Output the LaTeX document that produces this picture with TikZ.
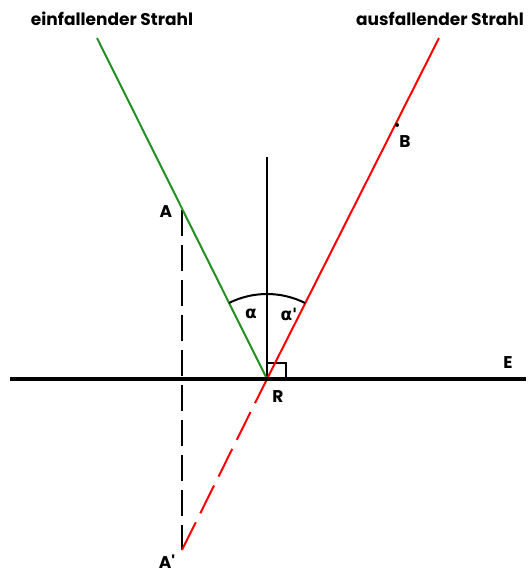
\documentclass[tikz,border=0pt]{standalone}
\usepackage{fontspec}
\setmainfont{Poppins}
\newfontfamily\greekfont{DejaVu Sans}
\definecolor{raygreen}{RGB}{34,145,34}
\definecolor{rayred}{RGB}{255,0,0}
\begin{document}
\begin{tikzpicture}[x=1pt,y=-1pt,
  lbl/.style={font=\bfseries\fontsize{17}{19}\selectfont, inner sep=0pt},
  glbl/.style={font=\greekfont\bfseries\fontsize{17}{19}\selectfont, inner sep=0pt},
  rayline/.style={line width=2pt},
  dashline/.style={line width=2pt, dash pattern=on 26pt off 9pt}]
\useasboundingbox (0,0) rectangle (528,576);
% coordinates
\coordinate (R) at (267,379);
\coordinate (Gs) at (97,38);
\coordinate (Rs) at (439,38);
\coordinate (A) at (182,210);
\coordinate (Ap) at (182,550);
\coordinate (B) at (397,125);
\coordinate (Nt) at (267,157);
\coordinate (E1) at (10,379);
\coordinate (E2) at (526,379);
% normal
\draw[line width=2pt] (Nt) -- (R);
% right angle
\draw[line width=2pt] (267,363) -- (286,363) -- (286,379);
% dashed lines
\draw[dashline] (A) -- (Ap);
\draw[dashline, rayred, dash pattern=on 31pt off 10pt] (Ap) -- (R);
% rays
\draw[rayline, raygreen] (Gs) -- (R);
\draw[rayline, rayred] (R) -- (Rs);
% mirror
\draw[line width=3.5pt] (E1) -- (E2);
% angle arc
\draw[line width=2pt] ([shift={(-116.5:85)}]R) arc[start angle=-116.5, end angle=-63.5, radius=85];
% point B
\fill (B) circle (2pt);
% labels
\node[lbl] (tg) at (112,19) {einfallender Strahl};
\node[lbl] (tr) at (440,19) {ausfallender Strahl};
\node[lbl] (lA) at (166,212) {A};
\node[lbl] (lB) at (405,142) {B};
\node[lbl] (lE) at (508,363) {E};
\node[lbl] (lR) at (278,397) {R};
\node[lbl] (lAp) at (167,562) {A\textquotesingle};
\node[glbl] (la) at (251,314) {α};
\node[glbl] (lap) at (289,314) {α\textquotesingle};
\end{tikzpicture}
\end{document}
